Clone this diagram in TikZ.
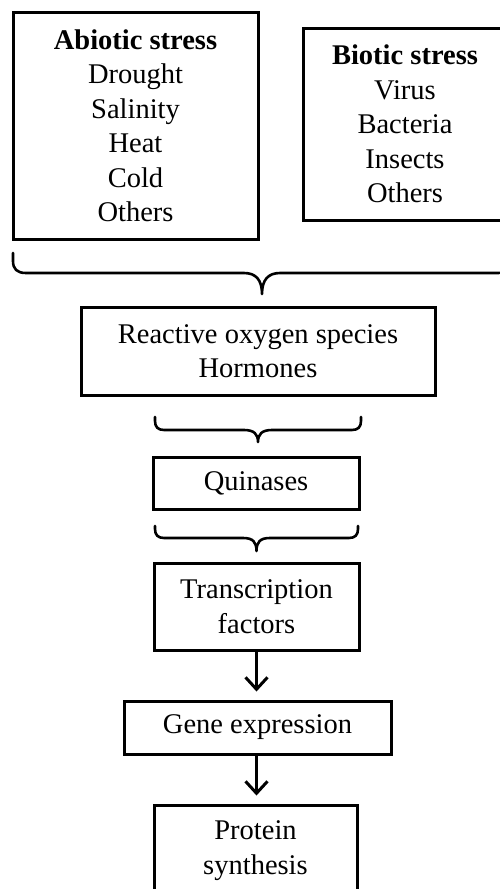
\documentclass[tikz,border=0pt]{standalone}
\usepackage{fontspec}
\setmainfont{Liberation Serif}
\usetikzlibrary{arrows.meta}
\begin{document}
\begin{tikzpicture}[x=1pt,y=-1pt,
  box/.style={draw=black, line width=3pt, inner sep=0pt, align=center,
    font=\fontsize{28.5}{34.5}\selectfont},
  bracepath/.style={draw=black, line width=2.6pt, line cap=round, line join=round},
  arr/.style={draw=black, line width=3pt, -{Straight Barb[length=12pt,width=22pt,line width=3pt]}}]
\useasboundingbox (0,0) rectangle (500,889);
\clip (0,0) rectangle (500,889);
\fill[white] (0,0) rectangle (500,889);

\node[box, minimum width=245pt, minimum height=227pt] (abiotic) at (135.5,125.5)
  {\textbf{Abiotic stress}\\Drought\\Salinity\\Heat\\Cold\\Others};
\node[box, minimum width=204pt, minimum height=192pt] (biotic) at (405,124)
  {\textbf{Biotic stress}\\Virus\\Bacteria\\Insects\\Others};
\node[box, minimum width=354pt, minimum height=88pt] (ros) at (258,351)
  {Reactive oxygen species\\Hormones};
\node[box, minimum width=206pt, minimum height=52pt] (quin) at (256,483)
  {Quinases};
\node[box, minimum width=205pt, minimum height=87pt] (trans) at (256.5,606.5)
  {Transcription\\factors};
\node[box, minimum width=267pt, minimum height=53pt] (gene) at (257.5,727.5)
  {Gene expression};
\node[box, minimum width=203pt, minimum height=91pt] (prot) at (255.5,850.5)
  {Protein\\synthesis};

% brace under the two stress boxes
\draw[bracepath] (13,253) -- (13,261) .. controls (13,269) and (17,273) .. (26,273) -- (244,273)
  .. controls (256,273) and (262,280) .. (262,294)
  .. controls (262,280) and (268,273) .. (280,273) -- (498,273)
  .. controls (507,273) and (511,269) .. (511,261) -- (511,253);
% brace under ROS box
\draw[bracepath] (155,417) -- (155,421) .. controls (155,427) and (158,430) .. (164,430) -- (244,430)
  .. controls (254,430) and (258,434) .. (258,442)
  .. controls (258,434) and (262,430) .. (272,430) -- (352,430)
  .. controls (358,430) and (361,427) .. (361,421) -- (361,417);
% brace under Quinases box
\draw[bracepath] (155,526) -- (155,529) .. controls (155,535) and (158,538) .. (164,538) -- (243,538)
  .. controls (253,538) and (256.5,542) .. (256.5,551)
  .. controls (256.5,542) and (260,538) .. (270,538) -- (349,538)
  .. controls (355,538) and (358,535) .. (358,529) -- (358,526);

\draw[arr, shorten >=8pt] (trans.south) -- (trans.south |- gene.north);
\draw[arr, shorten >=8pt] (gene.south -| trans.south) -- (trans.south |- prot.north);
\end{tikzpicture}
\end{document}
